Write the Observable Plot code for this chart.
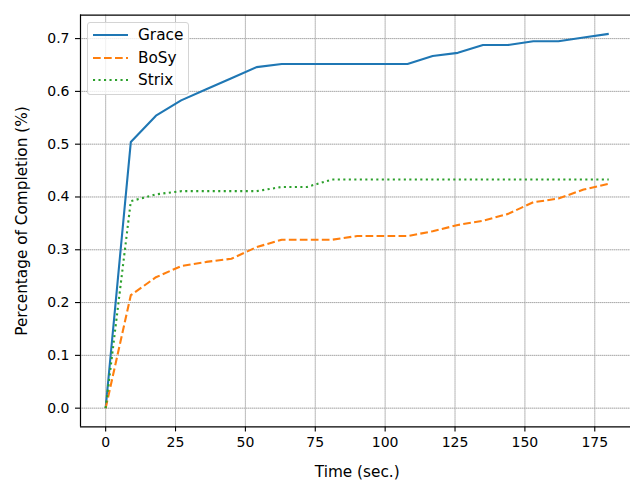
<!DOCTYPE html>
<html><head><meta charset="utf-8">
<script src="https://cdn.jsdelivr.net/npm/d3@7"></script>
<script src="https://cdn.jsdelivr.net/npm/@observablehq/plot@0.6"></script>
<style>
body{margin:0;background:#fff;}
#wrap{position:relative;width:630px;height:480px;overflow:hidden;font-family:"DejaVu Sans",sans-serif;}
#wrap > svg{position:absolute;left:0;top:0;}
.legend{position:absolute;left:87px;top:22px;width:102px;height:73px;border:1px solid #d4d4d4;border-radius:3px;background:rgba(255,255,255,0.8);box-sizing:border-box;}
.row{position:absolute;left:5px;height:22px;display:flex;align-items:center;font-size:15.3px;color:#000;white-space:nowrap;}
.row svg{display:block;margin-right:10px;}
</style></head>
<body>
<div id="wrap"></div>
<script>
const times = [0,9,18,27,36,45,54,63,72,81,90,99,108,117,126,135,144,153,162,171,180];
const grace = [0,0.504,0.554,0.583,0.604,0.625,0.646,0.652,0.652,0.652,0.652,0.652,0.652,0.667,0.673,0.688,0.688,0.695,0.695,0.702,0.709];
const bosy  = [0,0.214,0.248,0.269,0.277,0.283,0.305,0.319,0.319,0.319,0.326,0.326,0.326,0.335,0.347,0.355,0.368,0.390,0.397,0.414,0.425];
const strix = [0,0.392,0.405,0.411,0.411,0.411,0.411,0.419,0.419,0.433,0.433,0.433,0.433,0.433,0.433,0.433,0.433,0.433,0.433,0.433,0.433];
const seriesNames = ["Grace","BoSy","Strix"];
const seriesColors = ["#1f77b4","#ff7f0e","#2ca02c"];
const seriesDash = ["none","7.7,3.3","2.1,3.4"];
const xTicks = [0,25,50,75,100,125,150,175];
const yTicks = [0,0.1,0.2,0.3,0.4,0.5,0.6,0.7];
const xDomain = [-9, 189];
const yDomain = [-0.0355, 0.7445];
const xLabel = "Time (sec.)";
const yLabel = "Percentage of Completion (%)";

const allSeries = [grace, bosy, strix];
const lineMarks = allSeries.map((vals, i) =>
  Plot.line(times.map((t, j) => ({t, v: vals[j]})), {
    x: "t", y: "v", stroke: seriesColors[i], strokeWidth: 2.1,
    strokeDasharray: seriesDash[i], strokeLinecap: "butt", strokeLinejoin: "round"
  })
);

const chart = Plot.plot({
  width: 630, height: 480,
  marginLeft: 80, marginRight: -3.4, marginTop: 14.6, marginBottom: 53.6,
  style: {fontFamily: "DejaVu Sans", fontSize: "14px", color: "black", background: "white", overflow: "visible"},
  x: {domain: xDomain},
  y: {domain: yDomain},
  marks: [
    Plot.gridX(xTicks, {stroke: "#c4c4c4", strokeOpacity: 1, strokeWidth: 0.8}),
    Plot.gridX(xTicks, {stroke: "#888888", strokeOpacity: 1, strokeWidth: 0.5, strokeDasharray: "1,1"}),
    Plot.gridY(yTicks, {stroke: "#c4c4c4", strokeOpacity: 1, strokeWidth: 0.8}),
    Plot.gridY(yTicks, {stroke: "#888888", strokeOpacity: 1, strokeWidth: 0.5, strokeDasharray: "1,1"}),
    ...lineMarks,
    Plot.axisX(xTicks, {tickSize: 5, tickPadding: 5, label: null, fontSize: 14, strokeWidth: 1.1}),
    Plot.axisY(yTicks, {tickSize: 5, tickPadding: 6, label: null, tickFormat: d3.format(".1f"), fontSize: 14, strokeWidth: 1.1}),
    Plot.ruleX([xDomain[0]], {stroke: "black", strokeWidth: 1.2}),
    Plot.ruleY([yDomain[0]], {stroke: "black", strokeWidth: 1.2}),
    Plot.ruleY([yDomain[1]], {stroke: "black", strokeWidth: 1.2}),
    Plot.text([xLabel], {frameAnchor: "bottom", textAnchor: "middle", dy: 50, fontSize: 15.3, fill: "black"}),
    Plot.text([yLabel], {frameAnchor: "left", textAnchor: "middle", dx: -58, rotate: -90, fontSize: 15.3, fill: "black"})
  ]
});

const wrap = document.getElementById("wrap");
wrap.appendChild(chart);

const legend = document.createElement("div");
legend.className = "legend";
seriesNames.forEach((name, i) => {
  const row = document.createElement("div");
  row.className = "row";
  row.style.top = (1 + i * 22.6) + "px";
  const dash = seriesDash[i] === "none" ? "" : `stroke-dasharray="${seriesDash[i]}"`;
  row.innerHTML = `<svg width="35" height="6"><line x1="0" y1="3" x2="35" y2="3" stroke="${seriesColors[i]}" stroke-width="2.1" ${dash}/></svg><span>${name}</span>`;
  legend.appendChild(row);
});
wrap.appendChild(legend);
</script>
</body></html>
